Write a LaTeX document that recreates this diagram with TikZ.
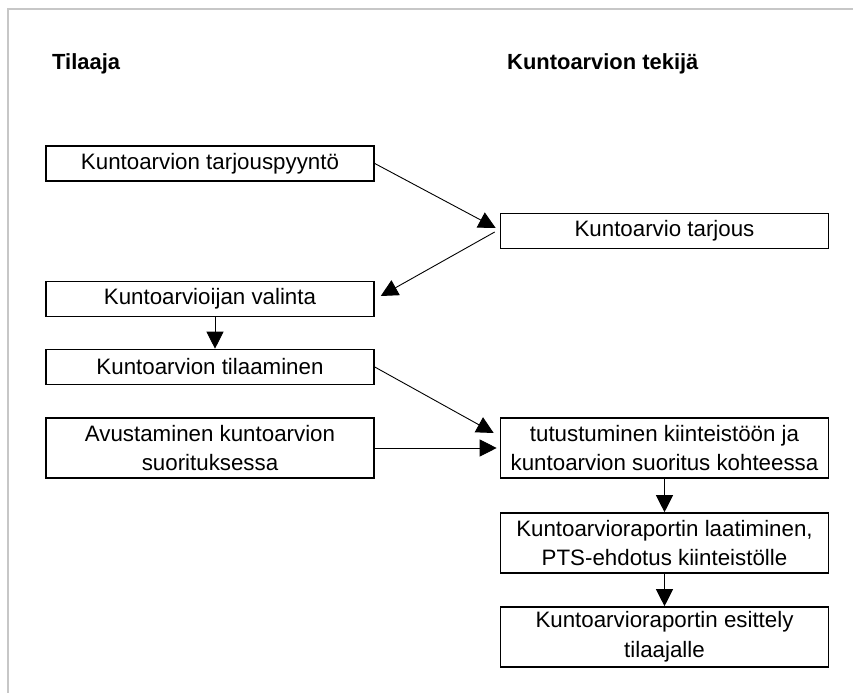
\documentclass[tikz,border=0pt]{standalone}
\usepackage{fontspec}
\setmainfont{Liberation Sans}
\usetikzlibrary{arrows.meta,calc}
\begin{document}
\begin{tikzpicture}[x=1bp,y=-1bp,
  box/.style={draw,line width=1.6bp,minimum width=328bp,minimum height=35bp,inner sep=0pt,font=\fontsize{22.4}{30}\selectfont,align=center},
  tall/.style={minimum height=60bp},
  head/.style={font=\bfseries\fontsize{22}{26}\selectfont,anchor=base west,inner sep=0pt},
  arr/.style={line width=0.9bp,-{Triangle[length=17bp,width=17bp]}}
]
\useasboundingbox (0,0) rectangle (853,693);
\draw[black!22,line width=2bp] (8,693) -- (8,9) -- (853,9);

\node[head] (h1) at (52,70) {Tilaaja};
\node[head] (h2) at (507,70) {Kuntoarvion tekijä};

\node[box] (b1) at (210,163.5) {Kuntoarvion tarjouspyyntö};
\node[box] (b2) at (664.5,231) {Kuntoarvio tarjous};
\node[box] (b3) at (210,299) {Kuntoarvioijan valinta};
\node[box] (b4) at (210,367) {Kuntoarvion tilaaminen};
\node[box,tall] (b5) at (210,448) {Avustaminen kuntoarvion\\suorituksessa};
\node[box,tall] (b6) at (664.5,448) {tutustuminen kiinteistöön ja\\kuntoarvion suoritus kohteessa};
\node[box,tall] (b7) at (664.5,543) {Kuntoarvioraportin laatiminen,\\PTS-ehdotus kiinteistölle};
\node[box,tall] (b8) at (664.5,637) {Kuntoarvioraportin esittely\\tilaajalle};

\draw[arr] (b1.east) -- ($(b2.west)+(-4,-3)$);
\draw[arr] ($(b2.west)+(-5,1)$) -- ($(b3.east)+(6,-3)$);
\draw[arr] ([xshift=5bp]b3.south) -- ([xshift=5bp]b4.north);
\draw[arr] (b4.east) -- ($(b6.west)+(-6,-15)$);
\draw[arr] (b5.east) -- ($(b6.west)+(-3,0)$);
\draw[arr] (b6) -- (b7);
\draw[arr] (b7) -- (b8);
\end{tikzpicture}
\end{document}
